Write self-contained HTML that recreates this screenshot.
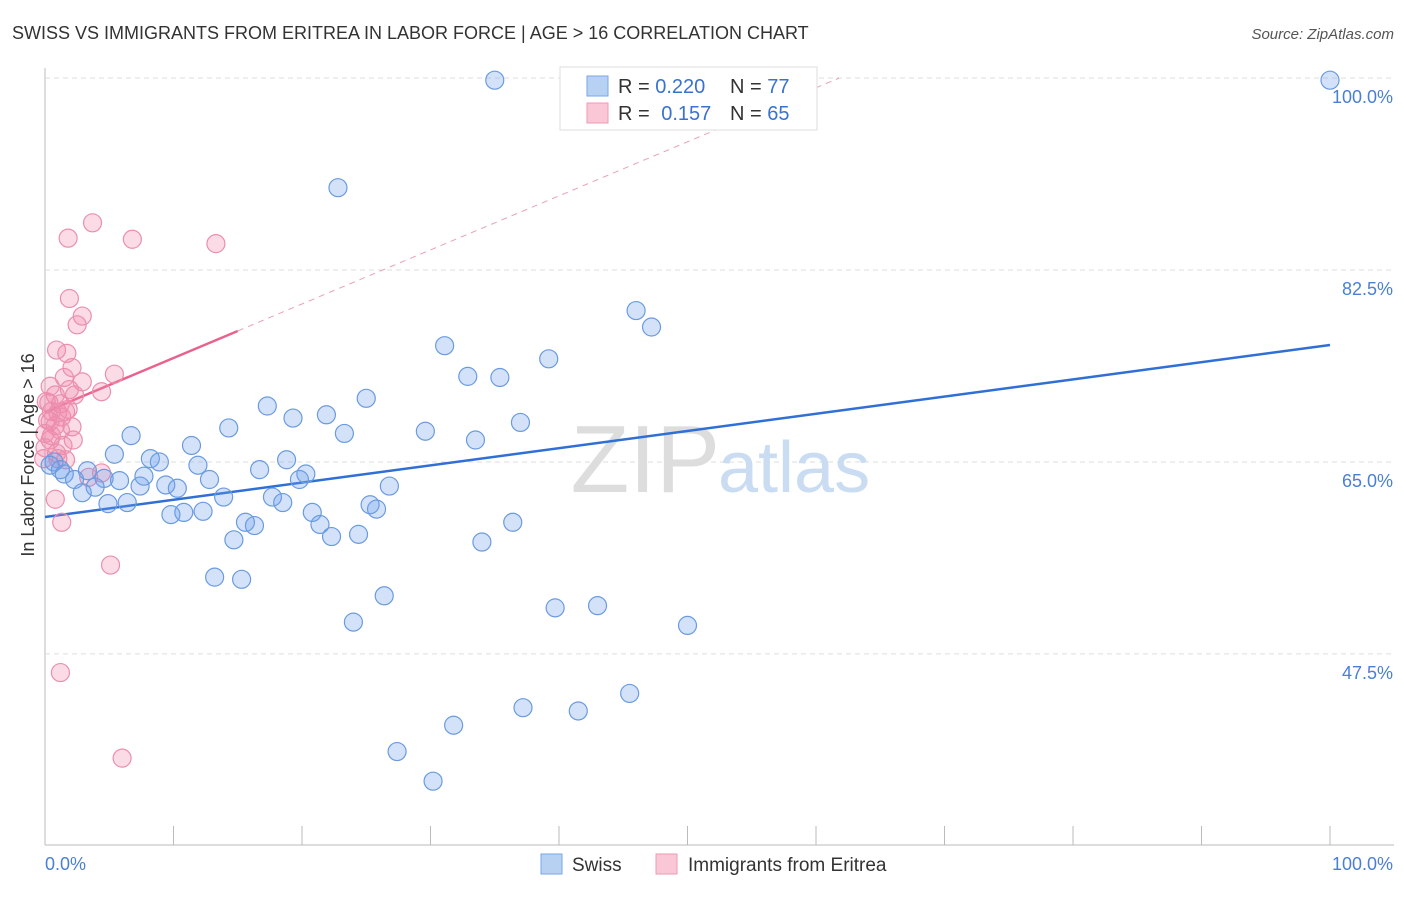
<!DOCTYPE html>
<html><head><meta charset="utf-8"><style>
body{margin:0;background:#fff;font-family:"Liberation Sans",sans-serif;}
svg text{font-family:"Liberation Sans",sans-serif;}
</style></head><body>
<svg id="chart" width="1406" height="892" xmlns="http://www.w3.org/2000/svg">
<text x="12" y="39" font-size="18" fill="#333">SWISS VS IMMIGRANTS FROM ERITREA IN LABOR FORCE | AGE &gt; 16 CORRELATION CHART</text>
<text x="1394" y="39" font-size="15" fill="#555" font-style="italic" text-anchor="end">Source: ZipAtlas.com</text>
<g id="grid"></g>
<text x="720" y="492" font-size="96" fill="#ddd" font-family="Liberation Serif" text-anchor="end">ZIP</text>
<text x="718" y="492" font-size="72" fill="#c9dcf2">atlas</text>
<g id="lines"></g>
<g id="pts"></g>
<text x="34" y="455" font-size="18" fill="#333" transform="rotate(-90 34 455)" text-anchor="middle">In Labor Force | Age &gt; 16</text>
<text x="45" y="870" font-size="18" fill="#4a7fd6">0.0%</text>
<text x="1393" y="870" font-size="18" fill="#4a7fd6" text-anchor="end">100.0%</text>
<g>
<rect x="560" y="67" width="257" height="63" fill="#fff" stroke="#ddd"/>
<rect x="587" y="76" width="21" height="20" fill="#b7d1f3" stroke="#7aa6e6"/>
<rect x="587" y="103" width="21" height="20" fill="#f9c7d6" stroke="#ee9ab4"/>
<text x="618" y="93" font-size="20" fill="#333">R = <tspan fill="#3a72d0">0.220</tspan></text>
<text x="730" y="93" font-size="20" fill="#333">N = <tspan fill="#3a72d0">77</tspan></text>
<text x="618" y="120" font-size="20" fill="#333">R = <tspan fill="#3a72d0" dx="6">0.157</tspan></text>
<text x="730" y="120" font-size="20" fill="#333">N = <tspan fill="#3a72d0">65</tspan></text>
</g>
<g>
<rect x="541" y="854" width="21" height="20" fill="#b7d1f3" stroke="#7aa6e6"/>
<text x="572" y="871" font-size="19" fill="#333">Swiss</text>
<rect x="656" y="854" width="21" height="20" fill="#f9c7d6" stroke="#ee9ab4"/>
<text x="688" y="871" font-size="19" fill="#333">Immigrants from Eritrea</text>
</g>
</svg>
<script>
const yTicks=[47.5,65.0,82.5,100.0];
const xTicks=[0,10,20,30,40,50,60,70,80,90,100];
const swissX=[35.0,100,51.3,22.8,46.0,47.2,31.1,39.2,32.9,35.4,25.0,17.3,19.3,21.9,37.0,14.3,6.7,23.3,29.6,33.5,11.4,5.4,8.2,8.9,0.7,18.8,11.9,16.7,20.3,3.3,1.5,4.6,5.8,2.3,12.8,7.7,9.4,10.3,19.8,26.8,3.9,2.9,7.4,13.9,6.4,4.9,17.7,18.5,25.3,25.8,20.8,10.8,9.8,12.3,15.6,16.3,21.4,36.4,22.3,24.4,14.7,34.0,13.2,15.3,26.4,39.7,43.0,24.0,50.0,45.5,37.2,41.5,31.8,27.4,30.2,1.2,0.4];
const swissY=[99.8,99.8,99.8,90.0,78.8,77.3,75.6,74.4,72.8,72.7,70.8,70.1,69.0,69.3,68.6,68.1,67.4,67.6,67.8,67.0,66.5,65.7,65.3,65.0,65.0,65.2,64.7,64.3,63.9,64.2,63.9,63.5,63.3,63.4,63.4,63.7,62.9,62.6,63.4,62.8,62.7,62.2,62.8,61.8,61.3,61.2,61.8,61.3,61.1,60.7,60.4,60.4,60.2,60.5,59.5,59.2,59.3,59.5,58.2,58.4,57.9,57.7,54.5,54.3,52.8,51.7,51.9,50.4,50.1,43.9,42.6,42.3,41.0,38.6,35.9,64.3,64.7];
const eriX=[1.8,3.7,6.8,13.3,1.9,2.9,2.5,0.9,1.7,2.1,5.4,1.5,2.9,1.9,4.4,2.3,0.4,0.8,0.3,0.5,1,1.3,1.6,0.2,0.8,2.1,1.2,2.2,1.4,0.4,0.9,1,1.6,-0.1,4.4,3.4,0.8,1.3,5.1,1.2,6,0.4,0,0,1.2,1.8,0.1,0.5];
const eriY=[85.4,86.8,85.3,84.9,79.9,78.3,77.5,75.2,74.9,73.6,73,72.7,72.3,71.6,71.4,71.1,71.9,71.1,70.4,69.6,69.5,69.1,69.6,68.8,68.3,68.2,67.9,67.0,66.5,67.0,65.8,65.3,65.2,65.3,64,63.6,61.6,59.5,55.6,45.8,38.0,68.7,67.6,66.3,70.3,69.8,70.5,67.4];
const swissTrend=[59.98,75.66];
const eriTrend=[69.55,76.94];
const eriSolidEnd=15;
const X=v=>45+v*12.85, Y=v=>78+(100-v)*10.97;
const NS='http://www.w3.org/2000/svg';
function mk(t,a,p){const e=document.createElementNS(NS,t);for(const k in a)e.setAttribute(k,a[k]);p.appendChild(e);return e;}
const grid=document.getElementById('grid');
mk('line',{x1:45,y1:68,x2:45,y2:845,stroke:'#bbb'},grid);
mk('line',{x1:45,y1:845,x2:1394,y2:845,stroke:'#bbb'},grid);
yTicks.forEach(t=>{
  const l=mk('line',{x1:45,y1:Y(t),x2:1394,y2:Y(t),stroke:'#ddd','stroke-dasharray':'5,4'},grid);
  
  
  const tx=mk('text',{x:1393,y:Y(t)+25,'font-size':18,fill:'#4a7fd6','text-anchor':'end'},grid);
  tx.textContent=t.toFixed(1)+'%';
  
  
});
xTicks.forEach(t=>{
  const l=mk('line',{x1:X(t),y1:826,x2:X(t),y2:845,stroke:'#bbb'},grid);
  
  
});
const lines=document.getElementById('lines');
const bl=mk('line',{x1:X(0),y1:Y(swissTrend[0]),x2:X(100),y2:Y(swissTrend[1]),stroke:'#2f6fd6','stroke-width':2.5},lines);


const slope=(eriTrend[1]-eriTrend[0])/eriSolidEnd;
const xEnd=(100-eriTrend[0])/slope;
const pd=mk('line',{x1:X(eriSolidEnd),y1:Y(eriTrend[1]),x2:X(xEnd),y2:Y(100),stroke:'#eaa0b8','stroke-width':1,'stroke-dasharray':'6,5'},lines);


const pl=mk('line',{x1:X(0),y1:Y(eriTrend[0]),x2:X(eriSolidEnd),y2:Y(eriTrend[1]),stroke:'#e8628c','stroke-width':2.5},lines);


const pts=document.getElementById('pts');
eriX.forEach((x,i)=>{
  const c=mk('circle',{cx:X(x),cy:Y(eriY[i]),r:9,fill:'rgba(243,140,172,0.3)',stroke:'#eb8fae','stroke-width':1.2},pts);
  
  
});
swissX.forEach((x,i)=>{
  const c=mk('circle',{cx:X(x),cy:Y(swissY[i]),r:9,fill:'rgba(110,160,235,0.3)',stroke:'#6a9be0','stroke-width':1.2},pts);
  
  
});
</script>
</body></html>
